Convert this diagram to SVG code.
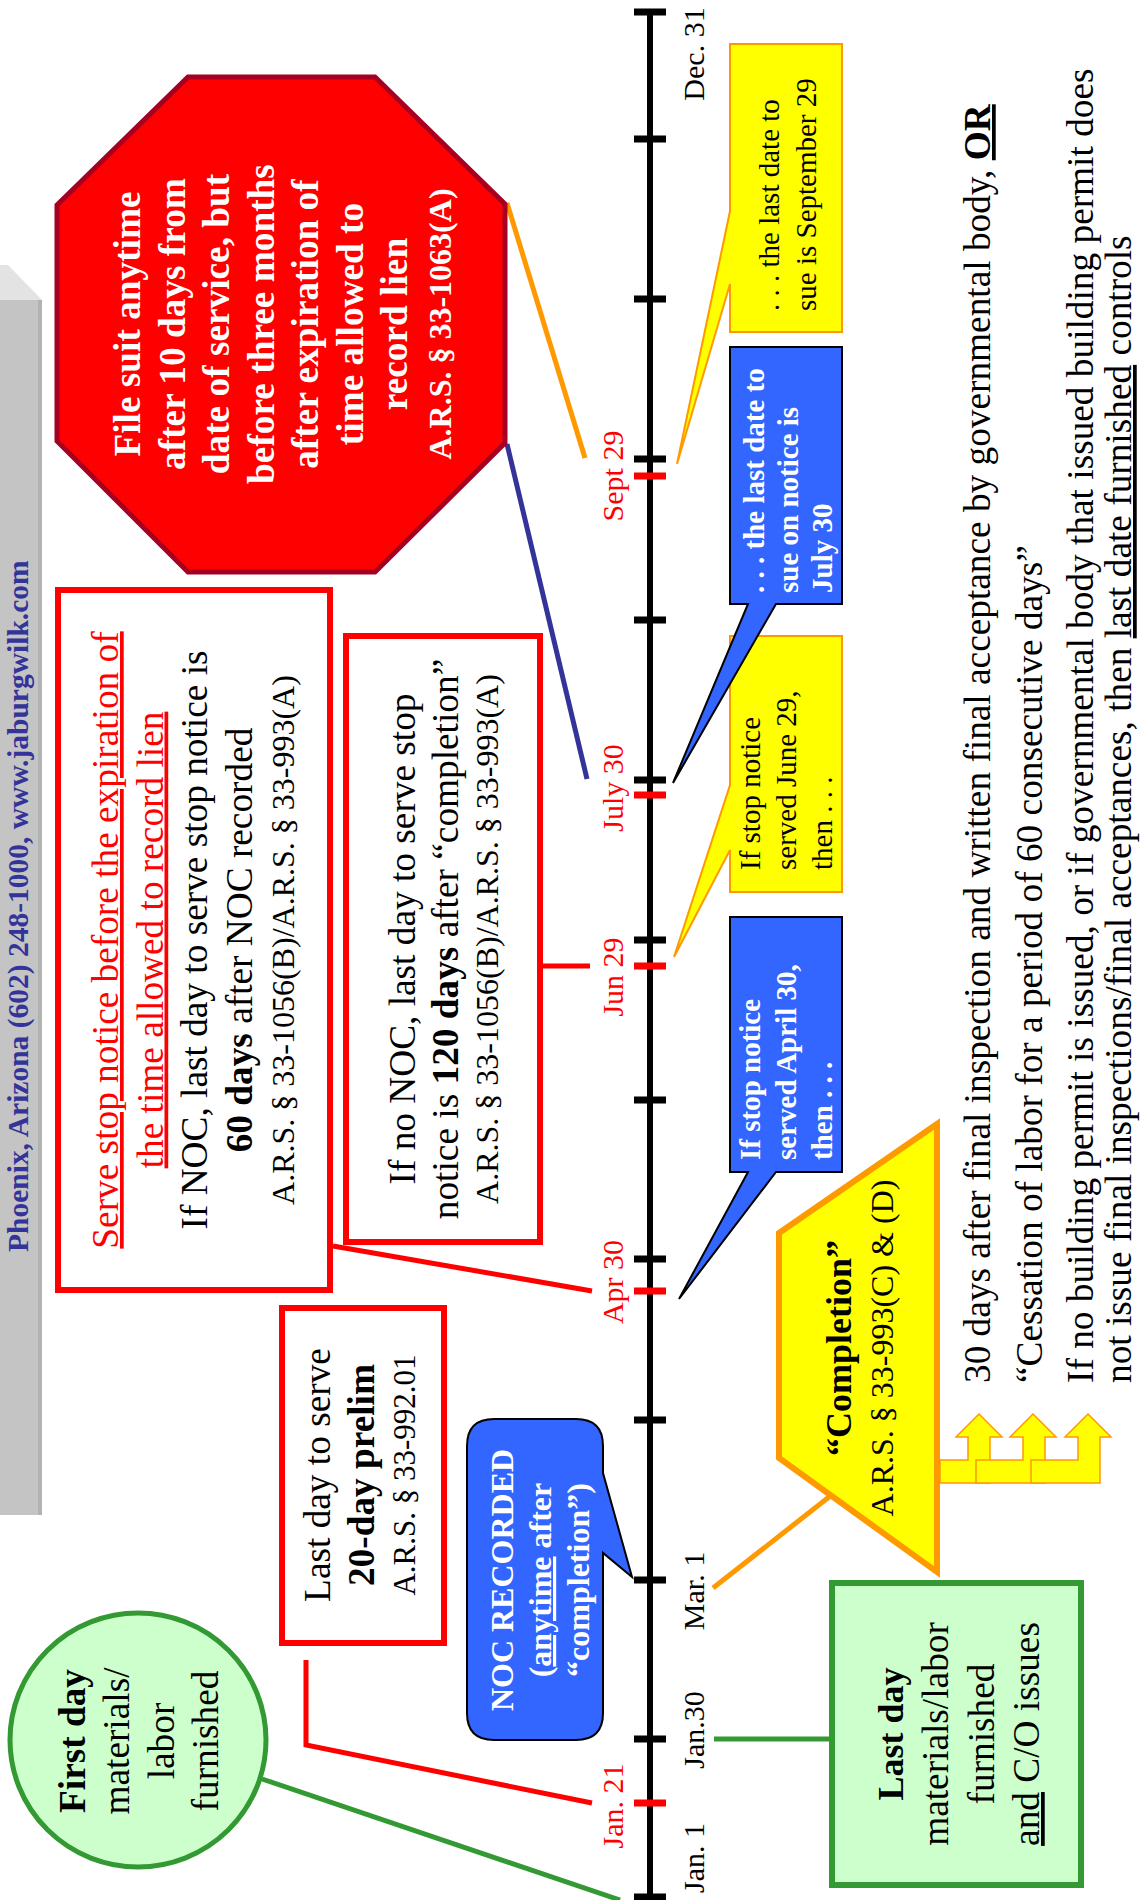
<svg xmlns="http://www.w3.org/2000/svg" width="1141" height="1900" viewBox="0 0 1141 1900">
<style>
text { font-family: "Liberation Serif", "Times New Roman", serif; }
.b { font-weight: bold; }
.c { text-anchor: middle; }
.s { text-anchor: start; }
.u { text-decoration: underline; }
.f37 { font-size: 37.3px; }
.f32 { font-size: 32px; }
.f29 { font-size: 29px; }
.lbl { font-size: 30px; text-anchor: middle; }
.red { fill: #FF0000; }
.wht { fill: #FFFFFF; }
.blk { fill: #000000; }
.navy { fill: #333399; }
.box { fill: #FFFFFF; stroke: #FF0000; stroke-width: 6; }
.gbox { fill: #CCFFCC; stroke: #339933; }
.bcall { fill: #3366FF; stroke: #000000; stroke-width: 2; }
.ycall { fill: #FFFF00; stroke: #FF9900; stroke-width: 2; }
.arrow { fill: #FFFF00; stroke: #FF9900; stroke-width: 1.5; }
.ln { fill: none; stroke-width: 5; }
</style>
<rect width="1141" height="1900" fill="#FFFFFF"/>

<g id="header-bar">
<polygon points="0,265 8,265 42,300 0,300" fill="#E3E3E3"/>
<rect x="0" y="300" width="39" height="1215" fill="#C4C4C4"/>
<rect x="38" y="300" width="4" height="1215" fill="#B2B2B2"/>
<text class="b s navy" font-size="29.5" transform="translate(0,1252) rotate(-90)" y="28">Phoenix, Arizona (602) 248-1000, www.jaburgwilk.com</text>
</g>

<g id="connectors">
<line class="ln" x1="507" y1="203" x2="585" y2="458" stroke="#FF9900"/>
<line class="ln" x1="507" y1="444" x2="587" y2="779" stroke="#333399"/>
<line class="ln" x1="333" y1="1246" x2="592" y2="1291" stroke="#FF0000"/>
<line class="ln" x1="543" y1="966" x2="590" y2="966" stroke="#FF0000"/>
<polyline class="ln" points="306,1660 306,1745 592,1803" stroke="#FF0000"/>
<line class="ln" x1="262" y1="1779" x2="620" y2="1900" stroke="#339933"/>
<line class="ln" x1="714" y1="1739" x2="830" y2="1739" stroke="#339933"/>
<line class="ln" x1="829" y1="1497" x2="713" y2="1588" stroke="#FF9900"/>
</g>

<g id="timeline">
<line x1="650" y1="9" x2="650" y2="1900" stroke="#000" stroke-width="6"/>
<path d="M634,12H666M634,139H666M634,299H666M634,459H666M634,620H666M634,780H666M634,940H666M634,1100H666M634,1259H666M634,1420H666M634,1580H666M634,1739H666M634,1897H666" stroke="#000" stroke-width="7"/>
<path d="M634,476H666M634,795H666M634,966H666M634,1291H666M634,1803H666" stroke="#FF0000" stroke-width="7"/>
<text class="lbl blk" transform="translate(704,54) rotate(-90)">Dec. 31</text>
<text class="lbl blk" transform="translate(704,1591) rotate(-90)">Mar. 1</text>
<text class="lbl blk" transform="translate(704,1730) rotate(-90)">Jan.30</text>
<text class="lbl blk" transform="translate(704,1858) rotate(-90)">Jan. 1</text>
<text class="lbl red" transform="translate(623,476) rotate(-90)">Sept 29</text>
<text class="lbl red" transform="translate(623,788) rotate(-90)">July 30</text>
<text class="lbl red" transform="translate(623,977) rotate(-90)">Jun 29</text>
<text class="lbl red" transform="translate(623,1282) rotate(-90)">Apr 30</text>
<text class="lbl red" transform="translate(623,1806) rotate(-90)">Jan. 21</text>
</g>

<g id="stop-sign">
<polygon points="188,77 375,77 505,204 505,443 375,572 188,572 57,441 57,205" fill="#FF0000" stroke="#A50021" stroke-width="5"/>
<g transform="translate(0,324) rotate(-90)" class="b c wht f37">
<text y="140">File suit anytime</text>
<text y="184.5">after 10 days from</text>
<text y="229">date of service, but</text>
<text y="273.5">before three months</text>
<text y="318">after expiration of</text>
<text y="362.5">time allowed to</text>
<text y="407">record lien</text>
<text y="451" class="f32">A.R.S. § 33-1063(A)</text>
</g>
</g>

<g id="stop-notice-box">
<rect class="box" x="58" y="590" width="272" height="700"/>
<g transform="translate(0,940) rotate(-90)" class="c f37">
<text y="118" class="red u">Serve stop notice before the expiration of</text>
<text y="162.5" class="red u">the time allowed to record lien</text>
<text y="207" class="blk">If NOC, last day to serve stop notice is</text>
<text y="251.5" class="blk"><tspan class="b">60 days</tspan> after NOC recorded</text>
<text y="294" class="blk f32">A.R.S. § 33-1056(B)/A.R.S. § 33-993(A)</text>
</g>
</g>

<g id="no-noc-box">
<rect class="box" x="346" y="636" width="194" height="606"/>
<g transform="translate(0,939) rotate(-90)" class="c f37 blk">
<text y="415">If no NOC, last day to serve stop</text>
<text y="458">notice is <tspan class="b">120 days</tspan> after “completion”</text>
<text y="498" class="f32">A.R.S. § 33-1056(B)/A.R.S. § 33-993(A)</text>
</g>
</g>

<g id="prelim-box">
<rect class="box" x="282" y="1308" width="162" height="335"/>
<g transform="translate(0,1475) rotate(-90)" class="c f37 blk">
<text y="330">Last day to serve</text>
<text y="374" class="b">20-day prelim</text>
<text y="415" font-size="31">A.R.S. § 33-992.01</text>
</g>
</g>

<g id="first-day">
<ellipse class="gbox" cx="138" cy="1740" rx="128" ry="127" stroke-width="5"/>
<g transform="translate(0,1741) rotate(-90)" class="c f37 blk">
<text y="85" class="b">First day</text>
<text y="129">materials/</text>
<text y="174">labor</text>
<text y="218">furnished</text>
</g>
</g>

<g id="noc-recorded">
<path class="bcall" d="M494,1419 H576 Q603,1419 603,1446 V1473 L632,1577 L603,1553 V1713 Q603,1740 576,1740 H494 Q467,1740 467,1713 V1446 Q467,1419 494,1419 Z"/>
<g transform="translate(0,1580) rotate(-90)" class="c b wht f32">
<text y="513">NOC RECORDED</text>
<text y="551">(<tspan class="u">anytime</tspan> after</text>
<text y="589">“completion”)</text>
</g>
</g>

<g id="april-callout">
<path class="bcall" d="M730,917 H842 V1172 H776 L679,1299 L748,1172 H730 Z"/>
<g transform="translate(0,1160) rotate(-90)" class="s b wht f29">
<text y="760">If stop notice</text>
<text y="796">served April 30,</text>
<text y="832">then . . .</text>
</g>
</g>

<g id="june-callout">
<path class="ycall" d="M730,636 H842 V892 H730 V850 L674,957 L730,785 Z"/>
<g transform="translate(0,870) rotate(-90)" class="s blk f29">
<text y="760">If stop notice</text>
<text y="796">served June 29,</text>
<text y="832">then . . .</text>
</g>
</g>

<g id="july-callout">
<path class="bcall" d="M730,347 H842 V604 H776 L673,783 L748,604 H730 Z"/>
<g transform="translate(0,593) rotate(-90)" class="s b wht f29">
<text y="764">. . . the last date to</text>
<text y="798">sue on notice is</text>
<text y="832">July 30</text>
</g>
</g>

<g id="sept-callout">
<path class="ycall" d="M730,44 H842 V332 H730 V284 L677,464 L730,211 Z"/>
<g transform="translate(0,311) rotate(-90)" class="s blk f29">
<text y="779">. . . the last date to</text>
<text y="816">sue is September 29</text>
</g>
</g>

<g id="completion">
<polygon points="779,1233 937,1124 937,1572 779,1458" fill="#FFFF00" stroke="#FF9900" stroke-width="6"/>
<g transform="translate(0,1348) rotate(-90)" class="c blk">
<text y="851" class="b" font-size="36">“Completion”</text>
<text y="893" class="f32">A.R.S. § 33-993(C) &amp; (D)</text>
</g>
</g>

<g id="completion-arrows">
<polygon class="arrow" points="940,1483 990,1483 990,1437 1002,1437 979,1414 956,1437 968,1437 968,1460 940,1460"/>
<polygon class="arrow" points="976,1483 1045,1483 1045,1437 1056,1437 1033,1414 1010,1437 1023,1437 1023,1460 976,1460"/>
<polygon class="arrow" points="1031,1483 1100,1483 1100,1437 1111,1437 1088,1414 1065,1437 1078,1437 1078,1460 1031,1460"/>
</g>

<g id="completion-definitions">
<g transform="translate(0,1383) rotate(-90)" class="s blk f37">
<text y="990">30 days after final inspection and written final acceptance by governmental body, <tspan class="b u">OR</tspan></text>
<text y="1042">“Cessation of labor for a period of 60 consecutive days”</text>
<text y="1093">If no building permit is issued, or if governmental body that issued building permit does</text>
<text y="1131">not issue final inspections/final acceptances, then <tspan class="u">last date furnished</tspan> controls</text>
</g>
</g>

<g id="last-day">
<rect class="gbox" x="832" y="1583" width="249" height="302" stroke-width="6"/>
<g transform="translate(0,1734) rotate(-90)" class="c blk f37">
<text y="903" class="b" font-size="36">Last day</text>
<text y="948">materials/labor</text>
<text y="994">furnished</text>
<text y="1039"><tspan class="u">and</tspan> C/O issues</text>
</g>
</g>
</svg>
